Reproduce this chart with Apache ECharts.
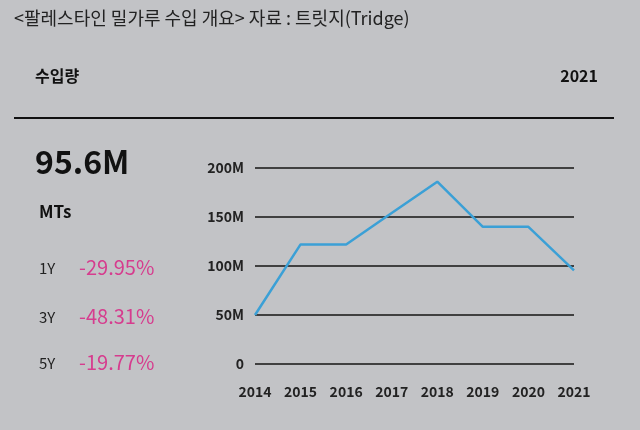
<!DOCTYPE html>
<html><head><meta charset="utf-8">
<script src="https://cdn.jsdelivr.net/npm/echarts@6/dist/echarts.min.js"></script>
<style>html,body{margin:0;padding:0;background:#c2c3c6;}#c{width:640px;height:430px;}</style>
</head><body><div id="c"></div>
<script>
const years = ['2014','2015','2016','2017','2018','2019','2020','2021'];
const imports = [50, 122, 122, 154, 186, 140, 140, 95.6]; // millions of MTs
const yTicks = [0, 50, 100, 150, 200];
const headline = '95.6M';
const unit = 'MTs';
const changeLabels = ['1Y', '3Y', '5Y'];
const changeValues = ['-29.95%', '-48.31%', '-19.77%'];

const font = '"Noto Sans CJK KR", "Noto Sans", sans-serif';
const chart = echarts.init(document.getElementById('c'));
const graphics = [
  {type:'text', left:14, top:9, style:{text:'<팔레스타인 밀가루 수입 개요> 자료 : 트릿지(Tridge)', font:'400 18px '+font, fill:'#222'}},
  {type:'text', left:35, top:68, style:{text:'수입량', font:'700 16px '+font, fill:'#111'}},
  {type:'text', right:42, top:68, style:{text:'2021', font:'700 16px '+font, fill:'#111'}},
  {type:'line', shape:{x1:14, y1:118, x2:614, y2:118}, style:{stroke:'#111', lineWidth:2}},
  {type:'text', left:35, top:146, style:{text:headline, font:'600 32px '+font, fill:'#111'}},
  {type:'text', left:39, top:203, style:{text:unit, font:'700 17px '+font, fill:'#111'}}
];
const rowsY = [261, 310, 356];
changeLabels.forEach((l, i) => {
  graphics.push({type:'text', left:39, top:rowsY[i], style:{text:l, font:'400 15px '+font, fill:'#222'}});
  graphics.push({type:'text', left:79, top:rowsY[i]-4, style:{text:changeValues[i], font:'400 20px '+font, fill:'#d63c8e'}});
});
chart.setOption({
  backgroundColor:'#c2c3c6',
  animation:false,
  graphic: graphics,
  grid:{left:255, right:66, top:168, bottom:66},
  xAxis:{type:'category', data:years, boundaryGap:false,
    axisLine:{show:false}, axisTick:{show:false},
    axisLabel:{color:'#222', fontSize:14, fontWeight:600, fontFamily:font, margin:21}},
  yAxis:{type:'value', min:0, max:200, interval:50,
    axisLine:{show:false}, axisTick:{show:false},
    splitLine:{lineStyle:{color:'#404040', width:1.8}},
    axisLabel:{color:'#222', fontSize:14, fontWeight:600, fontFamily:font, margin:11,
      formatter: v => yTicks.includes(v) ? (v === 0 ? '0' : v + 'M') : ''}},
  series:[{type:'line', data:imports, symbol:'none', lineStyle:{color:'#3ba0d6', width:2.5}}]
});
</script></body></html>
